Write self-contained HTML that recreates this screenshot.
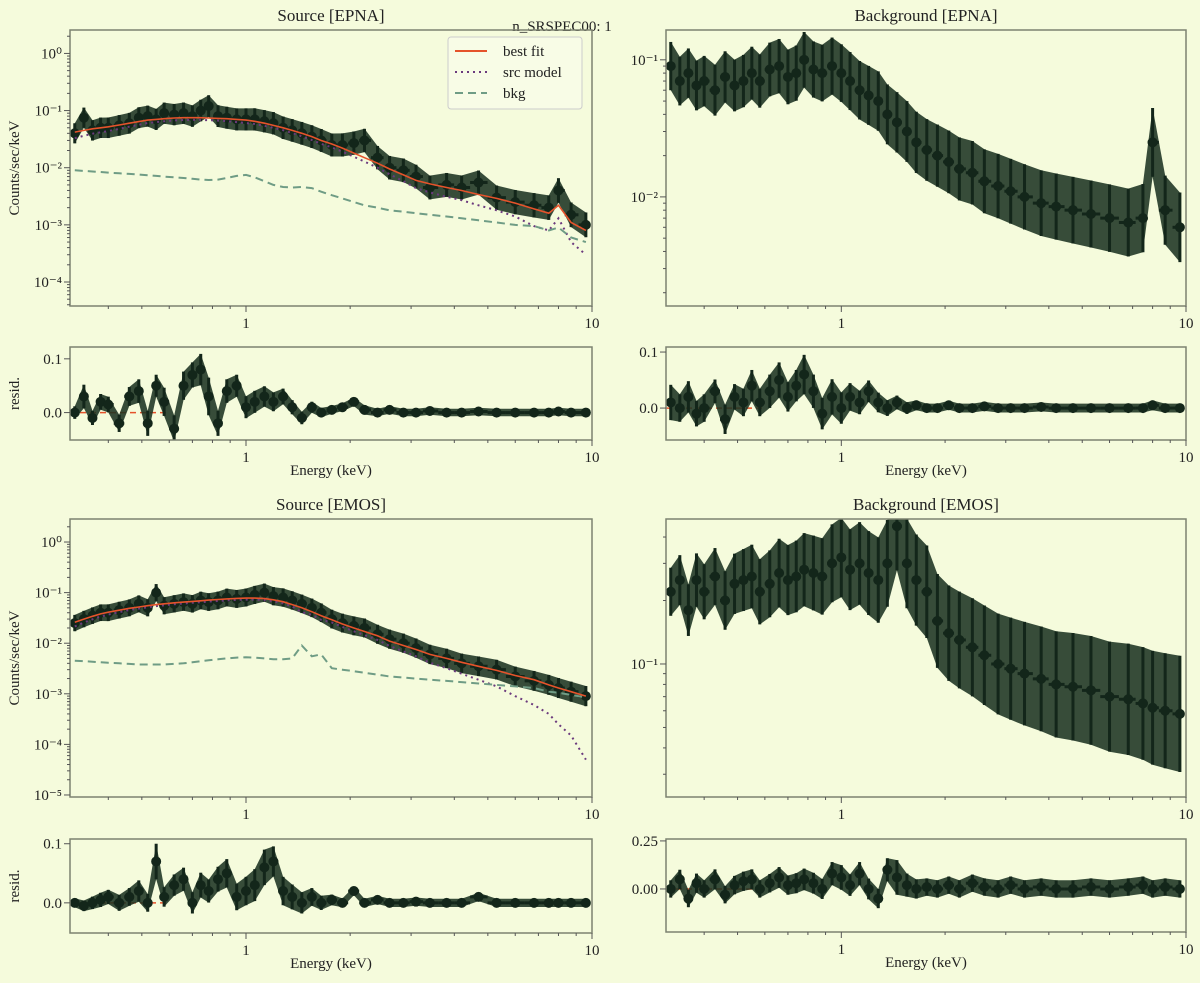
<!DOCTYPE html>
<html><head><meta charset="utf-8"><style>
html,body{margin:0;padding:0;background:#f5fbdc;}
svg{display:block;font-family:"Liberation Serif",serif;}
</style></head><body>
<svg id="fig" width="1200" height="983" viewBox="0 0 1200 983" xmlns="http://www.w3.org/2000/svg">
<rect width="1200" height="983" fill="#f5fbdc"/>
<text x="562" y="31" font-size="15" text-anchor="middle" fill="#222">n_SRSPEC00: 1</text>
</svg>
<script>
const energies=[0.32,0.34,0.36,0.38,0.40,0.43,0.46,0.49,0.52,0.55,0.58,0.62,0.66,0.70,0.74,0.78,0.83,0.88,0.94,1.0,1.06,1.13,1.2,1.28,1.36,1.45,1.55,1.65,1.77,1.9,2.05,2.2,2.4,2.6,2.85,3.1,3.4,3.8,4.2,4.7,5.3,6.0,6.8,7.5,8.0,8.7,9.6];
const srcEpnaCounts=[.04,.075,.045,.05,.05,.055,.06,.075,.08,.07,.09,.085,.09,.08,.1,.12,.08,.075,.07,.07,.07,.065,.06,.05,.045,.04,.035,.03,.025,.025,.027,.03,.015,.01,.009,.007,.0045,.005,.0045,.0055,.003,.0025,.0022,.002,.004,.0015,.001];
const srcEpnaFit=[.042,.045,.048,.05,.052,.056,.06,.064,.068,.07,.072,.074,.075,.075,.075,.074,.073,.072,.07,.068,.065,.06,.055,.05,.045,.04,.035,.03,.026,.022,.018,.015,.012,.0095,.0075,.006,.0052,.0045,.004,.0034,.0029,.0024,.0019,.0016,.0022,.0011,.0008];
const srcEpnaBkg=[.009,.0088,.0086,.0084,.0082,.008,.0078,.0076,.0074,.0072,.007,.0068,.0066,.0064,.0062,.0061,.0062,.0066,.0072,.0075,.0068,.0058,.005,.0046,.0045,.0046,.0044,.0038,.0033,.0029,.0025,.0022,.002,.0018,.0017,.0016,.0015,.0014,.0013,.0012,.0011,.001,.00095,.0008,.0009,.0006,.0005];
const srcEpnaResid=[0,.03,-.01,.02,.015,-.02,.03,.04,-.02,.05,.02,-.03,.05,.07,.08,.03,-.02,.04,.05,.01,.02,.03,.02,.03,.01,-.01,.01,0,.005,.01,.02,.005,0,.005,0,0,.003,0,0,.002,0,0,0,0,.002,0,0];
const bkgEpnaCounts=[.09,.07,.08,.065,.07,.06,.075,.065,.07,.08,.07,.085,.09,.075,.08,.1,.085,.08,.09,.08,.07,.06,.055,.05,.04,.035,.03,.025,.022,.02,.018,.016,.015,.013,.012,.011,.01,.009,.0085,.008,.0075,.007,.0065,.007,.025,.008,.006];
const bkgEpnaResid=[.01,0,.02,-.01,0,.03,-.02,.02,.01,.04,.01,.03,.05,.02,.04,.06,.03,-.01,.02,0,.02,.01,.03,.01,0,.01,0,.005,0,0,.005,0,0,.003,0,0,0,.002,0,0,0,0,0,0,.005,0,0];
const srcEmosCounts=[.025,.03,.035,.04,.04,.045,.05,.06,.05,.1,.055,.06,.065,.06,.07,.065,.07,.08,.075,.08,.09,.1,.085,.08,.07,.06,.05,.04,.03,.025,.022,.02,.015,.012,.01,.008,.006,.005,.004,.0035,.003,.0022,.0018,.0015,.0013,.0011,.0009];
const srcEmosFit=[.026,.03,.034,.038,.041,.045,.049,.052,.055,.058,.06,.063,.065,.067,.069,.071,.073,.075,.077,.078,.078,.076,.072,.066,.058,.05,.042,.035,.029,.024,.02,.017,.014,.011,.009,.0075,.006,.005,.0042,.0035,.0029,.0023,.0019,.0015,.0013,.0011,.0009];
const srcEmosBkg=[.0045,.0044,.0043,.0042,.0041,.004,.0039,.0038,.0038,.0038,.0038,.0039,.004,.0042,.0044,.0046,.0048,.005,.0052,.0053,.0052,.005,.0048,.0048,.005,.009,.0055,.006,.0032,.003,.0028,.0026,.0024,.0022,.0021,.002,.0019,.0018,.0017,.0016,.0015,.0014,.0013,.0011,.00105,.00095,.00085];
const srcEmosResid=[0,-.005,0,.005,.01,0,.01,.02,0,.07,.01,.03,.04,0,.03,.02,.04,.05,.01,.02,.03,.06,.07,.02,.01,0,.01,0,.005,0,.02,0,.005,0,0,.002,0,0,0,.01,0,0,0,0,0,0,0];
const bkgEmosCounts=[.22,.25,.18,.25,.22,.26,.2,.24,.25,.26,.22,.24,.27,.25,.26,.28,.27,.26,.3,.32,.28,.3,.27,.25,.3,.45,.3,.25,.22,.16,.14,.13,.12,.11,.1,.095,.09,.085,.08,.078,.075,.07,.068,.065,.062,.06,.058];
const bkgEmosResid=[0,.05,-.05,.03,0,.05,-.03,.02,.04,.05,0,.03,.06,.02,.03,.05,.03,0,.08,.06,.02,.08,0,-.05,.1,.06,.02,0,.01,0,.02,0,.03,.01,0,.02,0,.01,0,0,.01,0,.01,.02,0,.01,0];
const yTickExpsEpnaSrc=[0,-1,-2,-3,-4];
const yTickExpsEpnaBkg=[-1,-2];
const yTickExpsEmosSrc=[0,-1,-2,-3,-4,-5];
const yTickExpsEmosBkg=[-1];
const xTickLabels=[1,10];

const NS="http://www.w3.org/2000/svg";
const svg=document.getElementById('fig');
const DARK="#13261a";
function mk(tag,attrs,parent){const e=document.createElementNS(NS,tag);for(const k in attrs)e.setAttribute(k,attrs[k]);(parent||svg).appendChild(e);return e;}
const SUP={"0":"⁰","1":"¹","2":"²","3":"³","4":"⁴","5":"⁵","-":"⁻"};
function sup(n){return String(n).split('').map(c=>SUP[c]).join('');}

function xAxis(x0,x1,xmin,xmax){return e=>x0+(Math.log10(e)-Math.log10(xmin))/(Math.log10(xmax)-Math.log10(xmin))*(x1-x0);}
function logY(y0,y1,lmin,lmax){return v=>y1-(Math.log10(Math.max(v,1e-9))-lmin)/(lmax-lmin)*(y1-y0);}
function linY(y0,y1,vmin,vmax){return v=>y1-(v-vmin)/(vmax-vmin)*(y1-y0);}

function frame(g,x0,x1,y0,y1,X,name){
  const r=mk('rect',{x:x0,y:y0,width:x1-x0,height:y1-y0,fill:'none',stroke:'#7d8270','stroke-width':1.5},g);
  
  
  for(let d=0.4;d<10.01;d+=(d<0.95?0.1:1)){
    const dd=Math.round(d*10)/10; if(dd===1||dd===10) continue;
    const x=X(dd);
    mk('line',{x1:x,x2:x,y1:y1,y2:y1+3,stroke:'#555','stroke-width':1},g);
  }
  xTickLabels.forEach(v=>{
    const x=X(v);
    mk('line',{x1:x,x2:x,y1:y1,y2:y1+6,stroke:'#555','stroke-width':1},g);
    const t=mk('text',{x:x,y:y1+22,'font-size':15,'text-anchor':'middle',fill:'#222'},g);
    t.textContent=String(v);
    
    
  });
}
function logYTicks(g,x0,Y,exps,lmin,lmax){
  for(let e=Math.floor(lmin);e<=Math.ceil(lmax);e++){
    for(let m=2;m<=9;m++){const v=m*Math.pow(10,e);const lv=Math.log10(v);if(lv<lmin||lv>lmax)continue;
      mk('line',{x1:x0-3,x2:x0,y1:Y(v),y2:Y(v),stroke:'#555','stroke-width':1},g);}
  }
  exps.forEach(e=>{
    const y=Y(Math.pow(10,e));
    mk('line',{x1:x0-6,x2:x0,y1:y,y2:y,stroke:'#555','stroke-width':1},g);
    const t=mk('text',{x:x0-8,y:y+5,'font-size':15,'text-anchor':'end',fill:'#222'},g);
    t.textContent='10'+sup(e);
    
    
  });
}
function linYTicks(g,x0,Y,vals,labels){
  vals.forEach((v,i)=>{
    const y=Y(v);
    mk('line',{x1:x0-6,x2:x0,y1:y,y2:y,stroke:'#555','stroke-width':1},g);
    const t=mk('text',{x:x0-8,y:y+5,'font-size':15,'text-anchor':'end',fill:'#222'},g);
    t.textContent=labels[i];
    
    
  });
}
function clip(id,x0,x1,y0,y1){const c=mk('clipPath',{id:id});mk('rect',{x:x0,y:y0,width:x1-x0,height:y1-y0},c);return 'url(#'+id+')';}
function line(g,X,Y,vals,stroke,dash,w,name){
  const d=energies.map((e,i)=>(i?'L':'M')+X(e).toFixed(1)+' '+Y(vals[i]).toFixed(1)).join(' ');
  const p=mk('path',{d:d,fill:'none',stroke:stroke,'stroke-width':w,'stroke-dasharray':dash},g);
  
  
}
function points(g,X,Y,vals,lo,hi,name){
  const up=energies.map((e,i)=>X(e).toFixed(1)+','+Y(hi(i)).toFixed(1));
  const dn=energies.map((e,i)=>X(e).toFixed(1)+','+Y(lo(i)).toFixed(1)).reverse();
  const b=mk('polygon',{points:up.concat(dn).join(' '),fill:'#1c3322',opacity:0.88},g);
  
  
  energies.forEach((e,i)=>{
    const x=X(e),y=Y(vals[i]);
    const xl=X(i?Math.sqrt(e*energies[i-1]):e*0.97),xr=X(i<energies.length-1?Math.sqrt(e*energies[i+1]):e*1.03);
    mk('line',{x1:x,x2:x,y1:Y(lo(i)),y2:Y(hi(i)),stroke:DARK,'stroke-width':3},g);
    mk('line',{x1:xl,x2:xr,y1:y,y2:y,stroke:DARK,'stroke-width':3},g);
    const c=mk('circle',{cx:x,cy:y,r:5,fill:DARK},g);
    
    
  });
}
function label(x,y,txt,size,name,rot){
  const t=mk('text',{x:x,y:y,'font-size':size,'text-anchor':'middle',fill:'#222'});
  if(rot) t.setAttribute('transform','rotate(-90 '+x+' '+y+')');
  t.textContent=txt;
  
  
}

function panel(cfg){
  const g=mk('g',{});
  
  
  const X=xAxis(cfg.x0,cfg.x1,0.31,10);
  const Y=logY(cfg.y0,cfg.y1,cfg.lmin,cfg.lmax);
  const cl=clip(cfg.name+'-clip',cfg.x0,cfg.x1,cfg.y0,cfg.y1);
  const inner=mk('g',{'clip-path':cl},g);
  const f=cfg.rel;
  points(inner,X,Y,cfg.counts,i=>cfg.counts[i]/(1+f*(1+i/energies.length*cfg.grow)),i=>cfg.counts[i]*(1+f*(1+i/energies.length*cfg.grow)),cfg.name+'-data');
  if(cfg.fit){
    line(inner,X,Y,cfg.fit.map((v,i)=>Math.max(v-cfg.bkg[i],1e-7)),'#6b3a7d','2 4',2,cfg.name+'-src-model');
    line(inner,X,Y,cfg.bkg,'#6f9c85','8 5',2,cfg.name+'-bkg-model');
    line(inner,X,Y,cfg.fit,'#e5532b','',1.6,cfg.name+'-best-fit');
  }
  frame(g,cfg.x0,cfg.x1,cfg.y0,cfg.y1,X,cfg.name);
  logYTicks(g,cfg.x0,Y,cfg.exps,cfg.lmin,cfg.lmax);
  const R=linY(cfg.r0,cfg.r1,cfg.rmin,cfg.rmax);
  const rcl=clip(cfg.name+'-rclip',cfg.x0,cfg.x1,cfg.r0,cfg.r1);
  const rin=mk('g',{'clip-path':rcl},g);
  const mx=Math.max(...cfg.counts);
  const re=i=>Math.max(cfg.rerr*cfg.counts[i]/mx,cfg.rmin0);
  mk('line',{x1:cfg.x0,x2:X(0.6),y1:R(0),y2:R(0),stroke:'#e5532b','stroke-width':1.5,'stroke-dasharray':'6 4'},rin);
  points(rin,X,R,cfg.resid,i=>cfg.resid[i]-re(i),i=>cfg.resid[i]+re(i),cfg.name+'-resid');
  frame(g,cfg.x0,cfg.x1,cfg.r0,cfg.r1,X,cfg.name+'-resid');
  linYTicks(g,cfg.x0,R,cfg.rticks,cfg.rlabels);
  label((cfg.x0+cfg.x1)/2,cfg.y0-9,cfg.title,17,cfg.name+'-title');
  label((cfg.x0+cfg.x1)/2,cfg.r1+35,'Energy (keV)',15,cfg.name+'-x-axis-title');
  if(cfg.ylab){label(19,(cfg.y0+cfg.y1)/2,'Counts/sec/keV',15,cfg.name+'-y-axis-title',true);
    label(19,(cfg.r0+cfg.r1)/2,'resid.',15,cfg.name+'-resid-y-axis-title',true);}
}

panel({name:'source-epna',title:'Source [EPNA]',x0:70,x1:592,y0:30,y1:306,lmin:-4.42,lmax:0.41,exps:yTickExpsEpnaSrc,counts:srcEpnaCounts,fit:srcEpnaFit,bkg:srcEpnaBkg,rel:0.5,grow:0.3,
  r0:347,r1:440,rmin:-0.051,rmax:0.122,resid:srcEpnaResid,rerr:0.035,rmin0:0.007,rticks:[0,0.1],rlabels:['0.0','0.1'],ylab:true});
panel({name:'background-epna',title:'Background [EPNA]',x0:666,x1:1186,y0:30,y1:306,lmin:Math.log10(0.0016),lmax:Math.log10(0.165),exps:yTickExpsEpnaBkg,counts:bkgEpnaCounts,rel:0.5,grow:0.6,
  r0:347,r1:440,rmin:-0.057,rmax:0.109,resid:bkgEpnaResid,rerr:0.035,rmin0:0.008,rticks:[0,0.1],rlabels:['0.0','0.1']});
panel({name:'source-emos',title:'Source [EMOS]',x0:70,x1:592,y0:519,y1:797,lmin:-5.04,lmax:0.455,exps:yTickExpsEmosSrc,counts:srcEmosCounts,fit:srcEmosFit,bkg:srcEmosBkg,rel:0.45,grow:0.3,
  r0:839,r1:933,rmin:-0.051,rmax:0.108,resid:srcEmosResid,rerr:0.03,rmin0:0.007,rticks:[0,0.1],rlabels:['0.0','0.1'],ylab:true});
panel({name:'background-emos',title:'Background [EMOS]',x0:666,x1:1186,y0:519,y1:797,lmin:Math.log10(0.0234),lmax:Math.log10(0.487),exps:yTickExpsEmosBkg,counts:bkgEmosCounts,rel:0.3,grow:2.0,
  r0:839,r1:932,rmin:-0.224,rmax:0.26,resid:bkgEmosResid,rerr:0.09,rmin0:0.045,rticks:[0,0.25],rlabels:['0.00','0.25']});

const lg=mk('g',{});


mk('rect',{x:448,y:37,width:134,height:72,rx:3,fill:'#f8fce6',stroke:'#ccc','stroke-width':1},lg);
const legItems=[['best fit','#e5532b',''],['src model','#6b3a7d','2 4'],['bkg','#6f9c85','8 5']];
legItems.forEach((it,i)=>{
  const y=51+i*21;
  const l=mk('line',{x1:455,x2:487,y1:y,y2:y,stroke:it[1],'stroke-width':2,'stroke-dasharray':it[2]},lg);
  
  
  const t=mk('text',{x:503,y:y+5,'font-size':15,fill:'#222'},lg);
  t.textContent=it[0];
  
  
});
</script>
</body></html>
